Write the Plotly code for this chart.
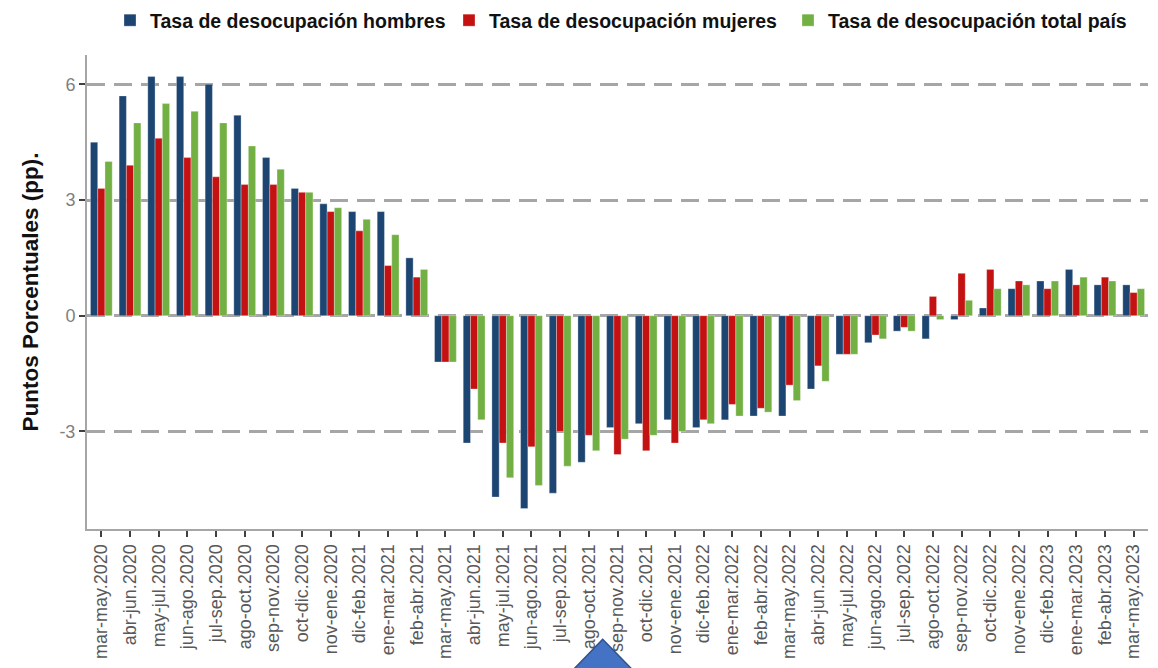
import plotly.graph_objects as go

categories = [
    "mar-may.2020", "abr-jun.2020", "may-jul.2020", "jun-ago.2020", "jul-sep.2020",
    "ago-oct.2020", "sep-nov.2020", "oct-dic.2020", "nov-ene.2020", "dic-feb.2021",
    "ene-mar.2021", "feb-abr.2021", "mar-may.2021", "abr-jun.2021", "may-jul.2021",
    "jun-ago.2021", "jul-sep.2021", "ago-oct.2021", "sep-nov.2021", "oct-dic.2021",
    "nov-ene.2021", "dic-feb.2022", "ene-mar.2022", "feb-abr.2022", "mar-may.2022",
    "abr-jun.2022", "may-jul.2022", "jun-ago.2022", "jul-sep.2022", "ago-oct.2022",
    "sep-nov.2022", "oct-dic.2022", "nov-ene.2022", "dic-feb.2023", "ene-mar.2023",
    "feb-abr.2023", "mar-may.2023",
]

hombres = [4.5, 5.7, 6.2, 6.2, 6.0, 5.2, 4.1, 3.3, 2.9, 2.7, 2.7, 1.5,
           -1.2, -3.3, -4.7, -5.0, -4.6, -3.8, -2.9, -2.8, -2.7, -2.9, -2.7, -2.6,
           -2.6, -1.9, -1.0, -0.7, -0.4, -0.6, -0.1, 0.2, 0.7, 0.9, 1.2, 0.8, 0.8]
mujeres = [3.3, 3.9, 4.6, 4.1, 3.6, 3.4, 3.4, 3.2, 2.7, 2.2, 1.3, 1.0,
           -1.2, -1.9, -3.3, -3.4, -3.0, -3.1, -3.6, -3.5, -3.3, -2.7, -2.3, -2.4,
           -1.8, -1.3, -1.0, -0.5, -0.3, 0.5, 1.1, 1.2, 0.9, 0.7, 0.8, 1.0, 0.6]
total = [4.0, 5.0, 5.5, 5.3, 5.0, 4.4, 3.8, 3.2, 2.8, 2.5, 2.1, 1.2,
         -1.2, -2.7, -4.2, -4.4, -3.9, -3.5, -3.2, -3.1, -3.0, -2.8, -2.6, -2.5,
         -2.2, -1.7, -1.0, -0.6, -0.4, -0.1, 0.4, 0.7, 0.8, 0.9, 1.0, 0.9, 0.7]

series_names = ["Tasa de desocupación hombres", "Tasa de desocupación mujeres",
                "Tasa de desocupación total país"]
series_colors = ["#1D4571", "#C41212", "#72B043"]

y_ticks = [-3, 0, 3, 6]

fig = go.Figure()
for name, vals, col in zip(series_names, [hombres, mujeres, total], series_colors):
    fig.add_trace(go.Bar(
        x=categories, y=vals, name=name,
        marker=dict(color=col, line=dict(color="rgba(255,255,255,0.6)", width=0.5)),
    ))

# page body has an 8px margin; work in figure coordinates (screen - 8)
OFF = 8
W, H = 1158 - OFF, 668 - OFF
L, T = 87 - OFF, 55 - OFF
R = W - (1148 - OFF)
B = H - (529 - OFF)
pw, ph = W - L - R, H - T - B

def px_x(p):
    return (p - OFF - L) / pw

def px_y(p):
    return (H - B - (p - OFF)) / ph

fig.update_layout(
    width=W, height=H,
    margin=dict(l=L, r=R, t=T, b=B, autoexpand=False),
    paper_bgcolor="white", plot_bgcolor="white",
    barmode="group", bargap=0.24, bargroupgap=0,
    font=dict(family="Liberation Sans, Arial, sans-serif", color="#595959"),
    legend=dict(
        orientation="h", xref="container", yref="container",
        x=(110 - OFF) / W, xanchor="left", y=1 - (20.5 - OFF) / H, yanchor="middle",
        font=dict(size=19.5, color="#111111", family="Liberation Sans, Arial, sans-serif", weight="bold"),
        entrywidth=294, entrywidthmode="pixels",
        bgcolor="rgba(0,0,0,0)", itemclick=False,
    ),
    xaxis=dict(
        type="category", tickangle=-90, automargin=False,
        tickfont=dict(size=18, color="#595959"),
        showline=True, linecolor="#A6A6A6", linewidth=2,
        ticks="outside", ticklen=6, tickwidth=2, tickcolor="#404040",
        showgrid=False, zeroline=False,
    ),
    yaxis=dict(
        range=[-5.53, 6.76], tickvals=y_ticks, ticktext=[str(v) for v in y_ticks],
        automargin=False,
        tickfont=dict(size=18, color="#7F7F7F"),
        showline=True, linecolor="#A6A6A6", linewidth=2,
        ticks="outside", ticklen=6, tickwidth=2, tickcolor="#404040",
        showgrid=True, gridcolor="#A6A6A6", gridwidth=2.5, griddash="18px,9px",
        zeroline=False,
        title=dict(text="Puntos Porcentuales (pp).", font=dict(size=22.5, color="#111111", weight="bold"), standoff=15),
    ),
    shapes=[dict(
        type="path", xref="paper", yref="paper",
        path=f"M {px_x(602.7)} {px_y(639.3)} L {px_x(542)} {px_y(702)} L {px_x(664)} {px_y(702)} Z",
        fillcolor="#4472C4", line=dict(color="#2F528F", width=1.5), layer="above",
    )],
)

fig.write_html("out.html")
